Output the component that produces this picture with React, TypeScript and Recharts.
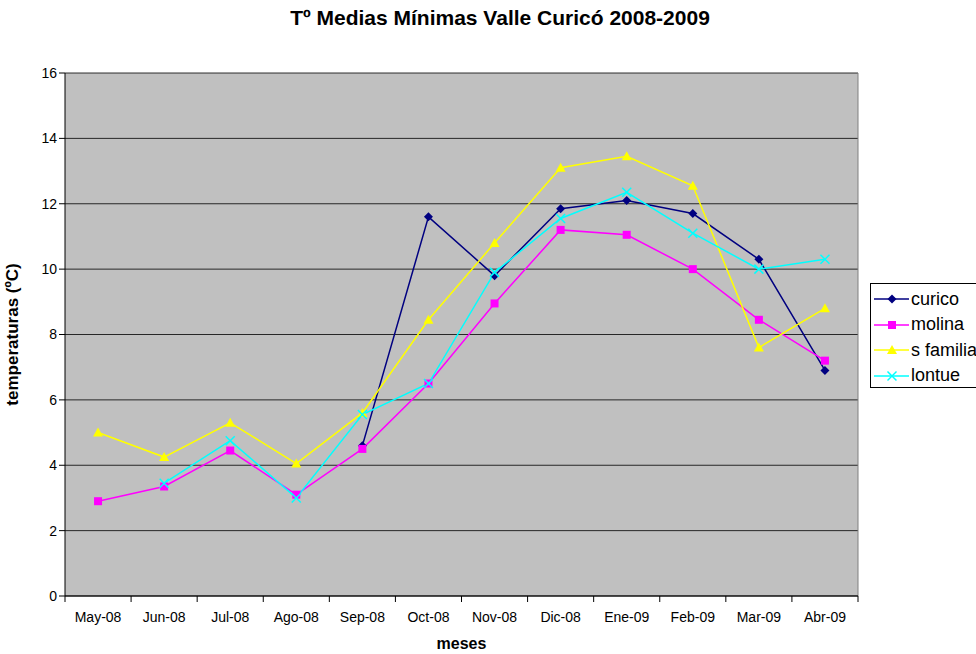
import React from "react"
import {
  LineChart, Line, XAxis, YAxis, CartesianGrid, Legend, Label
} from "recharts"

const months = ["May-08", "Jun-08", "Jul-08", "Ago-08", "Sep-08", "Oct-08", "Nov-08", "Dic-08", "Ene-09", "Feb-09", "Mar-09", "Abr-09"]
const curico = [null, null, null, null, 4.6, 11.6, 9.8, 11.85, 12.1, 11.7, 10.3, 6.9]
const molina = [2.9, 3.35, 4.45, 3.1, 4.5, 6.5, 8.95, 11.2, 11.05, 10.0, 8.45, 7.2]
const sFamilia = [5.0, 4.25, 5.3, 4.05, 5.6, 8.45, 10.8, 13.1, 13.45, 12.55, 7.6, 8.8]
const lontue = [null, 3.45, 4.75, 3.0, 5.55, 6.5, 9.9, 11.55, 12.35, 11.1, 10.0, 10.3]
const yTicks = [0, 2, 4, 6, 8, 10, 12, 14, 16]

const data = months.map((m, i) => ({
  mes: m, curico: curico[i], molina: molina[i], sFamilia: sFamilia[i], lontue: lontue[i]
}))

const series = [
  { key: "curico", name: "curico", color: "#000080", shape: "diamond" },
  { key: "molina", name: "molina", color: "#FF00FF", shape: "square" },
  { key: "sFamilia", name: "s familia", color: "#FFFF00", shape: "triangle" },
  { key: "lontue", name: "lontue", color: "#00FFFF", shape: "x" },
]

const FONT = "'Liberation Sans', Arial, sans-serif"
const PLOT_W = 793
const BAND = PLOT_W / months.length

const Marker = ({ cx, cy, shape, color }: any) => {
  if (cx == null || cy == null) return null
  if (shape === "diamond")
    return <polygon points={`${cx},${cy - 4.5} ${cx + 4.5},${cy} ${cx},${cy + 4.5} ${cx - 4.5},${cy}`} fill={color} />
  if (shape === "square")
    return <rect x={cx - 4} y={cy - 4} width={8} height={8} fill={color} />
  if (shape === "triangle")
    return <polygon points={`${cx},${cy - 5} ${cx + 5},${cy + 4} ${cx - 5},${cy + 4}`} fill={color} />
  return (
    <g stroke={color} strokeWidth={1.5}>
      <line x1={cx - 4.5} y1={cy - 4.5} x2={cx + 4.5} y2={cy + 4.5} />
      <line x1={cx - 4.5} y1={cy + 4.5} x2={cx + 4.5} y2={cy - 4.5} />
    </g>
  )
}

const MonthTick = ({ x, y, payload, index }: any) => {
  const left = x - BAND / 2
  return (
    <g>
      <line x1={left} y1={y - 8} x2={left} y2={y - 2} stroke="#000" />
      {index === months.length - 1 && (
        <line x1={x + BAND / 2} y1={y - 8} x2={x + BAND / 2} y2={y - 2} stroke="#000" />
      )}
      <text x={x} y={y + 18} textAnchor="middle" fontSize={14} fill="#000" fontFamily={FONT}>
        {payload.value}
      </text>
    </g>
  )
}

const LegendBox = () => (
  <div style={{
    position: "absolute", left: 870, top: 283, width: 120, height: 105,
    border: "1px solid #000", background: "#fff", boxSizing: "border-box"
  }}>
    {series.map((s, i) => (
      <div key={s.key} style={{ position: "absolute", left: 0, top: 2 + i * 25.5, height: 26, display: "flex", alignItems: "center" }}>
        <svg width={40} height={26}>
          <line x1={3} y1={13} x2={38} y2={13} stroke={s.color} strokeWidth={1.5} />
          <Marker cx={21} cy={13} shape={s.shape} color={s.color} />
        </svg>
        <span style={{ fontFamily: FONT, fontSize: 18, color: "#000", whiteSpace: "nowrap" }}>{s.name}</span>
      </div>
    ))}
  </div>
)

export default function App() {
  return (
    <div style={{ position: "absolute", left: 0, top: 0, width: 976, height: 654, background: "#fff", overflow: "hidden" }}>
      <div style={{
        position: "absolute", left: 0, top: 6, width: 1000, textAlign: "center",
        fontFamily: FONT, fontWeight: "bold", fontSize: 21, color: "#000"
      }}>
        Tº Medias Mínimas Valle Curicó 2008-2009
      </div>
      <LineChart width={976} height={654} data={data} margin={{ top: 73, right: 118, left: 0, bottom: 0 }}>
        <CartesianGrid vertical={false} stroke="#000" fill="#C0C0C0" strokeOpacity={0.8} />
        <CartesianGrid horizontal={false} verticalPoints={[858]} stroke="#808080" />
        <XAxis
          dataKey="mes" scale="band" interval={0} height={58}
          axisLine={{ stroke: "#000" }} tickLine={false} tick={<MonthTick />}
        >
          <Label value="meses" position="insideBottom" offset={5}
            style={{ fontFamily: FONT, fontWeight: "bold", fontSize: 16, fill: "#000" }} />
        </XAxis>
        <YAxis
          width={65} domain={[0, 16]} ticks={yTicks} interval={0}
          axisLine={{ stroke: "#000" }} tickLine={{ stroke: "#000" }} tickSize={6}
          tick={{ fontSize: 14, fill: "#000", fontFamily: FONT }}
        >
          <Label value="temperaturas (ºC)" angle={-90} position="insideLeft" offset={12}
            style={{ fontFamily: FONT, fontWeight: "bold", fontSize: 17, fill: "#000", textAnchor: "middle" }} />
        </YAxis>
        <Legend content={() => null} />
        {series.map(s => (
          <Line
            key={s.key} dataKey={s.key} name={s.name} type="linear"
            stroke={s.color} strokeWidth={1.5} isAnimationActive={false}
            dot={(p: any) => <Marker key={`${s.key}-${p.index}`} cx={p.cx} cy={p.cy} shape={s.shape} color={s.color} />}
            activeDot={false}
          />
        ))}
      </LineChart>
      <LegendBox />
    </div>
  )
}
